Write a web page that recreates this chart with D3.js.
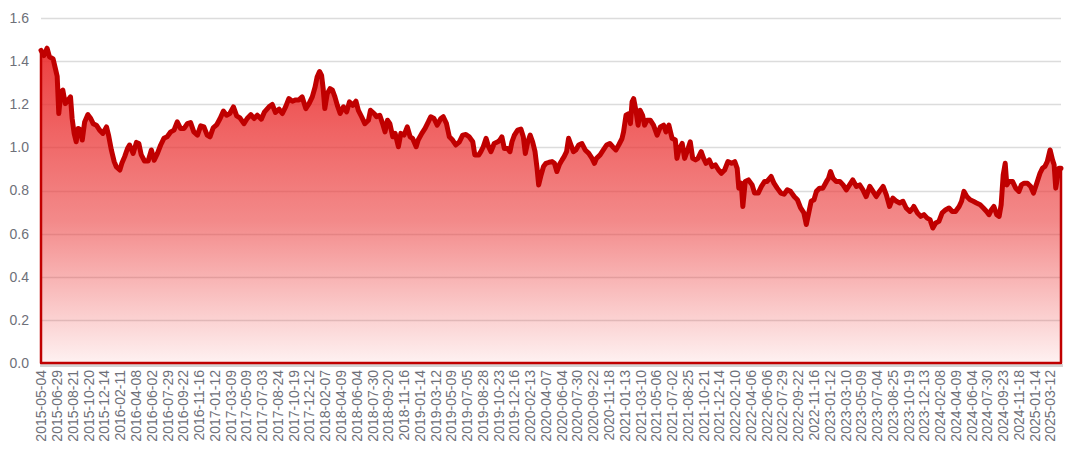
<!DOCTYPE html>
<html>
<head>
<meta charset="utf-8">
<script src="https://cdn.jsdelivr.net/npm/d3@7/dist/d3.min.js"></script>
<style>
  html, body { margin: 0; padding: 0; background: #ffffff; }
  svg { display: block; }
</style>
</head>
<body>
<svg id="chart" width="1080" height="459"></svg>
<script>
// ---- data ----
const tickLabels = ["2015-05-04","2015-06-29","2015-08-21","2015-10-20","2015-12-14","2016-02-11","2016-04-08","2016-06-02","2016-07-29","2016-09-22","2016-11-16","2017-01-12","2017-03-09","2017-05-09","2017-07-03","2017-08-24","2017-10-19","2017-12-12","2018-02-07","2018-04-09","2018-06-04","2018-07-30","2018-09-20","2018-11-16","2019-01-14","2019-03-12","2019-05-09","2019-07-05","2019-08-28","2019-10-23","2019-12-16","2020-02-13","2020-04-07","2020-06-04","2020-07-30","2020-09-22","2020-11-18","2021-01-13","2021-03-10","2021-05-06","2021-07-02","2021-08-25","2021-10-21","2021-12-14","2022-02-10","2022-04-06","2022-06-06","2022-07-29","2022-09-22","2022-11-16","2023-01-12","2023-03-10","2023-05-09","2023-07-04","2023-08-25","2023-10-19","2023-12-13","2024-02-08","2024-04-09","2024-06-04","2024-07-30","2024-09-23","2024-11-18","2025-01-14","2025-03-12"];
const labelStep = 39;          // one label every 39 trading days
const totalDays = 2524;        // trading days in the series
const yTicks = [0, 0.2, 0.4, 0.6, 0.8, 1.0, 1.2, 1.4, 1.6];

const sampleDay = [0,7,15,21,30,35,40,44,49,54,60,67,73,77,82,87,92,98,102,108,116,123,129,137,145,153,162,167,174,181,186,195,200,207,214,219,228,236,242,248,256,265,273,280,288,296,304,312,321,329,337,345,354,
362,370,378,387,395,403,411,418,426,435,443,451,459,467,476,484,492,502,510,519,527,535,545,553,564,572,580,589,597,605,613,622,630,638,646,655,663,671,678,683,689,694,698,702,708,715,
721,727,733,740,748,756,763,771,779,785,793,801,810,815,824,830,838,845,851,857,863,870,876,884,890,898,906,913,919,928,933,942,950,958,964,972,980,989,995,1003,1010,1018,1026,1035,1043,1051,1059,1068,1073,
1083,1088,1094,1101,1107,1113,1121,1130,1135,1140,1146,1154,1160,1165,1171,1179,1187,1193,1198,1204,1210,1216,1222,1227,1231,1237,1243,1249,1257,1264,1270,1276,1282,1289,1294,1300,1305,1311,1317,1323,1330,1338,1346,1355,1363,1369,1374,1383,1391,1399,1407,1414,1422,1429,
1437,1441,1447,1454,1458,1462,1466,1472,1477,1482,1488,1493,1499,1507,1515,1524,1532,1540,1546,1553,1561,1569,1573,1579,1586,1592,1598,1606,1612,1619,1625,1633,1639,1645,1653,1660,1668,1676,1683,1691,1699,1708,1716,1722,1726,1732,1736,1742,1750,1759,1765,1774,1782,1790,1796,
1806,1813,1821,1830,1838,1846,1854,1863,1871,1879,1887,1893,1899,1905,1912,1918,1926,1934,1943,1948,1953,1959,1967,1976,1984,1992,2000,2008,2017,2025,2033,2041,2050,2058,2066,2074,2083,2091,2099,2107,2116,2124,2132,2140,2149,2157,
2159,2168,2176,2184,2192,2199,2206,2213,2221,2229,2238,2246,2254,2262,2271,2277,2283,2290,2298,2306,2314,2323,2331,2339,2345,2351,2357,2364,2370,2375,2380,2385,2389,2394,2403,2411,2419,2425,2432,2440,2448,2455,2463,2471,2477,2483,2489,2496,2502,2506,2510,2514,2518,2523];

const ratio = [1.45,1.426,1.46,1.42,1.41,1.37,1.33,1.157,1.257,1.265,1.203,1.22,1.234,1.134,1.065,1.026,1.088,1.08,1.034,1.118,1.152,1.134,1.11,1.103,1.08,1.065,1.095,1.057,0.988,0.934,0.911,0.895,0.926,0.957,0.995,1.011,0.972,1.023,1.018,0.965,0.937,0.937,0.988,0.94,0.972,1.011,1.042,1.049,1.072,1.08,1.118,1.088,1.088,
1.11,1.115,1.072,1.057,1.10,1.095,1.057,1.049,1.091,1.106,1.134,1.168,1.149,1.157,1.188,1.146,1.137,1.11,1.134,1.152,1.134,1.149,1.131,1.165,1.188,1.199,1.162,1.177,1.157,1.188,1.226,1.214,1.22,1.22,1.234,1.18,1.203,1.234,1.28,1.326,1.352,1.334,1.272,1.18,1.249,1.272,
1.265,1.234,1.195,1.157,1.188,1.165,1.211,1.195,1.214,1.172,1.142,1.11,1.126,1.172,1.157,1.142,1.149,1.11,1.072,1.126,1.11,1.049,1.065,1.003,1.065,1.057,1.095,1.049,1.042,1.003,1.034,1.065,1.088,1.118,1.142,1.134,1.103,1.134,1.142,1.11,1.049,1.034,1.011,1.026,1.057,1.06,1.049,1.026,0.965,
0.965,0.98,1.003,1.042,1.003,0.98,1.018,1.026,1.034,1.049,0.995,0.995,0.98,1.026,1.057,1.08,1.085,1.049,0.972,1.026,1.057,1.026,0.98,0.903,0.826,0.872,0.911,0.926,0.931,0.934,0.926,0.888,0.919,0.942,0.957,0.98,1.042,1.011,0.98,0.988,1.011,1.018,0.988,0.972,0.949,0.926,0.949,0.965,0.988,1.011,1.018,1.003,0.988,1.011,
1.04,1.072,1.149,1.157,1.11,1.211,1.226,1.165,1.103,1.172,1.149,1.103,1.126,1.126,1.103,1.057,1.095,1.103,1.072,1.103,1.042,1.034,0.949,0.995,1.018,0.949,0.98,1.026,0.949,0.942,0.949,0.98,0.949,0.926,0.942,0.911,0.919,0.895,0.88,0.895,0.934,0.926,0.934,0.903,0.811,0.834,0.726,0.842,0.849,0.826,0.788,0.788,0.819,0.842,0.842,
0.865,0.834,0.811,0.788,0.783,0.803,0.796,0.772,0.757,0.719,0.696,0.642,0.696,0.75,0.757,0.796,0.811,0.811,0.842,0.857,0.888,0.857,0.842,0.842,0.826,0.803,0.826,0.849,0.819,0.826,0.803,0.772,0.819,0.796,0.772,0.796,0.819,0.78,0.726,0.765,0.75,0.742,0.75,0.719,0.703,0.719,
0.726,0.696,0.68,0.688,0.672,0.665,0.626,0.649,0.657,0.696,0.711,0.719,0.703,0.703,0.726,0.75,0.796,0.772,0.757,0.75,0.742,0.734,0.719,0.703,0.688,0.711,0.726,0.688,0.68,0.734,0.872,0.926,0.826,0.842,0.842,0.811,0.796,0.826,0.834,0.834,0.819,0.788,0.834,0.88,0.903,0.911,0.934,0.988,0.942,0.919,0.811,0.857,0.903,0.903];

// ---- layout ----
const W = 1080, H = 459;
const margin = { left: 41, right: 19, top: 18, bottom: 96 };
const svg = d3.select("#chart");

const data = sampleDay.map((d, i) => ({ day: d, v: ratio[i] }));

const x = d3.scaleLinear().domain([0, totalDays - 1]).range([margin.left, W - margin.right]);
const y = d3.scaleLinear().domain([0, 1.6]).range([H - margin.bottom, margin.top]);

// gradient
const defs = svg.append("defs");
const grad = defs.append("linearGradient")
  .attr("id", "areaGrad")
  .attr("gradientUnits", "userSpaceOnUse")
  .attr("x1", 0).attr("x2", 0)
  .attr("y1", y(d3.max(ratio))).attr("y2", y(0));
grad.append("stop").attr("offset", "0%").attr("stop-color", "rgb(235,45,45)").attr("stop-opacity", 0.92);
grad.append("stop").attr("offset", "55%").attr("stop-color", "rgb(235,60,60)").attr("stop-opacity", 0.6);
grad.append("stop").attr("offset", "100%").attr("stop-color", "rgb(240,60,60)").attr("stop-opacity", 0.07);

// grid lines
svg.append("g")
  .selectAll("line")
  .data(yTicks.filter(t => t > 0))
  .join("line")
  .attr("x1", x.range()[0]).attr("x2", x.range()[1])
  .attr("y1", d => Math.round(y(d)) + 0.5).attr("y2", d => Math.round(y(d)) + 0.5)
  .attr("stroke", "#dcdcdc").attr("stroke-width", 1.5);

// y axis labels
const yAxis = d3.axisLeft(y).tickValues(yTicks).tickFormat(d3.format(".1f")).tickSize(0).tickPadding(12);
const yg = svg.append("g").attr("transform", `translate(${margin.left},0)`).call(yAxis);
yg.select(".domain").remove();
yg.selectAll("text")
  .attr("fill", "#6e7079")
  .style("font-family", "'Liberation Sans', Arial, sans-serif")
  .style("font-size", "14px");

// x axis baseline shadow
svg.append("line")
  .attr("x1", x.range()[0] - 1).attr("x2", x.range()[1] + 2)
  .attr("y1", y(0) + 2.5).attr("y2", y(0) + 2.5)
  .attr("stroke", "#d4d4d4").attr("stroke-width", 3);

// area
const area = d3.area().x(d => x(d.day)).y0(y(0)).y1(d => y(d.v)).curve(d3.curveLinear);
svg.append("path")
  .datum(data)
  .attr("d", area)
  .attr("fill", "url(#areaGrad)")
  .attr("stroke", "#c00000")
  .attr("stroke-width", 2.5)
  .attr("stroke-linejoin", "round");

// line
const line = d3.line().x(d => x(d.day)).y(d => y(d.v)).curve(d3.curveLinear);
svg.append("path")
  .datum(data)
  .attr("d", line)
  .attr("fill", "none")
  .attr("stroke", "#c00000")
  .attr("stroke-width", 5)
  .attr("stroke-linejoin", "round")
  .attr("stroke-linecap", "round");

// x axis labels
const tickPos = tickLabels.map((t, i) => ({ label: t, day: i * labelStep }));
const xAxis = d3.axisBottom(x)
  .tickValues(tickPos.map(d => d.day))
  .tickFormat((d, i) => tickLabels[i])
  .tickSize(0).tickPadding(0);
const xg = svg.append("g").attr("transform", `translate(0,${y(0)})`).call(xAxis);
xg.select(".domain").remove();
xg.selectAll("text")
  .attr("transform", "rotate(-90)")
  .attr("x", -7)
  .attr("y", 0)
  .attr("dy", "0.35em")
  .attr("text-anchor", "end")
  .attr("fill", "#6e7079")
  .style("font-family", "'Liberation Sans', Arial, sans-serif")
  .style("font-size", "14px");
</script>
</body>
</html>
